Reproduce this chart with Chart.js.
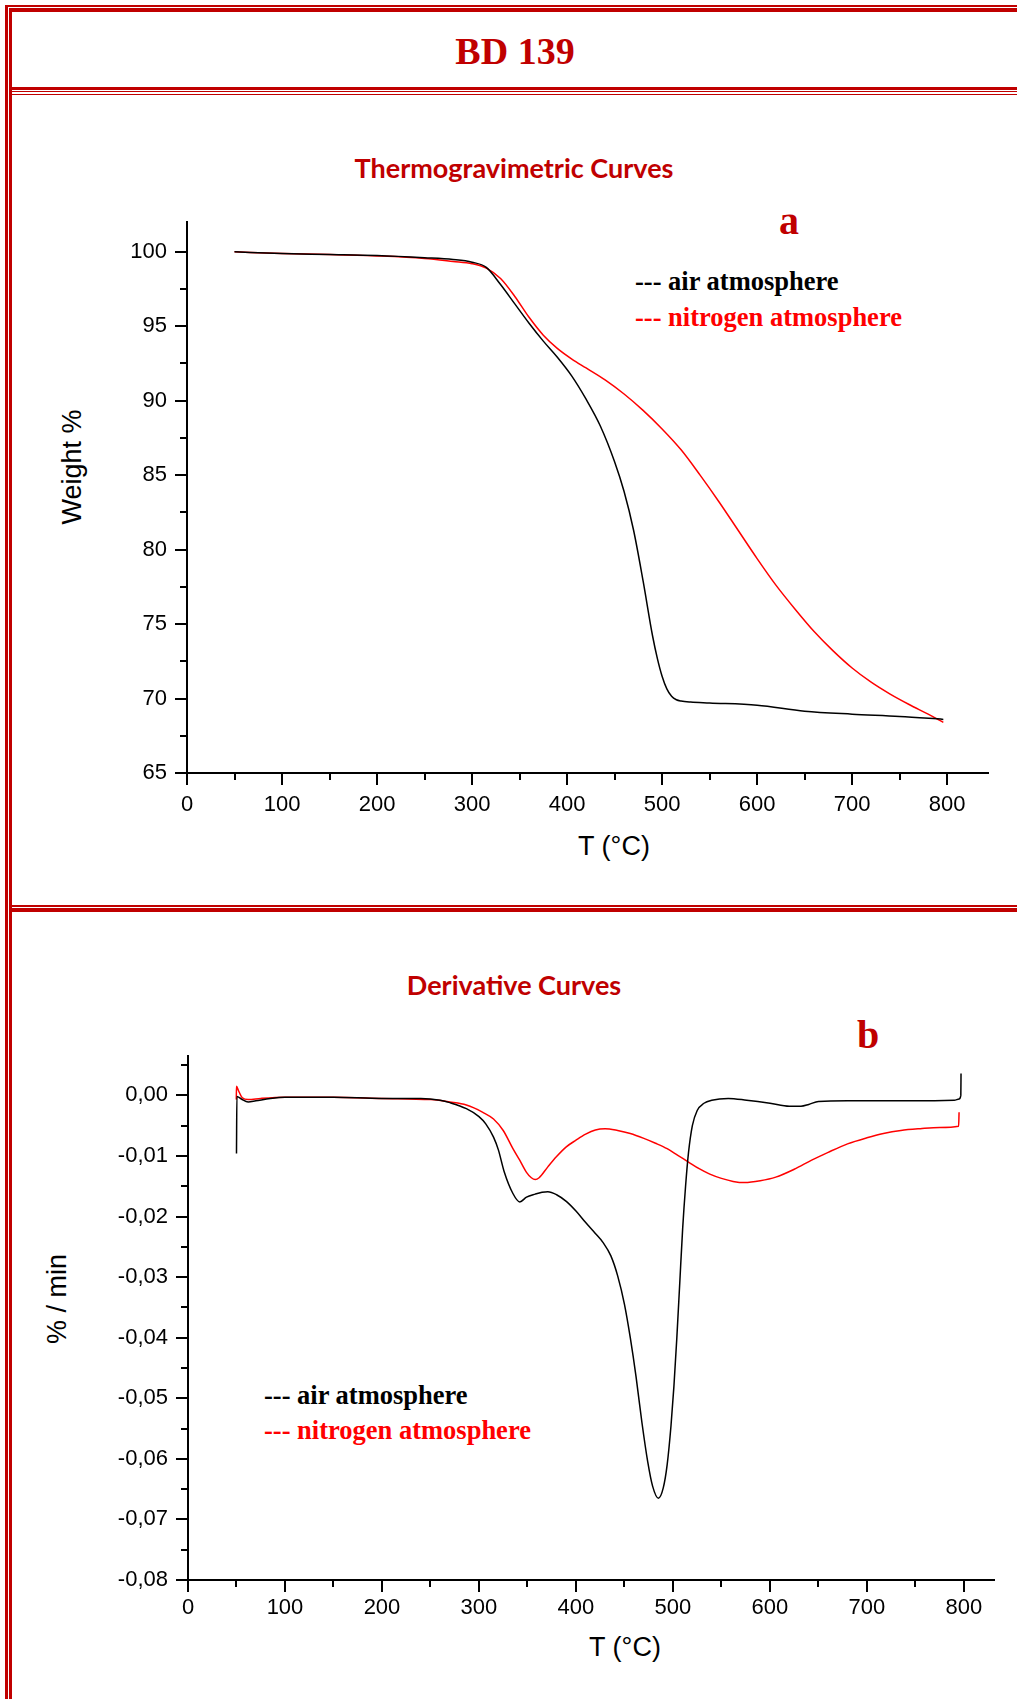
<!DOCTYPE html>
<html>
<head>
<meta charset="utf-8">
<script src="https://cdn.jsdelivr.net/npm/chart.js@4.4.1/dist/chart.umd.min.js"></script>
<style>
  body { margin: 0; width: 1017px; height: 1699px; position: relative; overflow: hidden; background: #fff; }
  .rule { position: absolute; background: #c00000; }
  .t { position: absolute; white-space: nowrap; line-height: 1; }
  .c { transform: translate(-50%, -50%); }
  .serif { font-family: "Liberation Serif", "Times New Roman", serif; font-weight: bold; }
  .sans { font-family: "Liberation Sans", Arial, sans-serif; }
  .calib { font-family: Lato, "Open Sans", sans-serif; font-weight: bold; color: #c00000; }
  canvas { position: absolute; }
</style>
</head>
<body>

<!-- double red table borders -->
<div class="rule" style="left:5px;top:5px;width:1012px;height:2px"></div>
<div class="rule" style="left:9px;top:8px;width:1008px;height:4px"></div>
<div class="rule" style="left:5px;top:5px;width:3px;height:1694px"></div>
<div class="rule" style="left:9px;top:8px;width:3px;height:1691px"></div>
<div class="rule" style="left:9px;top:87px;width:1008px;height:3px"></div>
<div class="rule" style="left:9px;top:91px;width:1008px;height:1px"></div>
<div class="rule" style="left:9px;top:94px;width:1008px;height:1px"></div>
<div class="rule" style="left:9px;top:905px;width:1008px;height:2px"></div>
<div class="rule" style="left:9px;top:908px;width:1008px;height:4px"></div>

<div class="t c serif" style="left:515px;top:51px;font-size:38px;color:#c00000">BD 139</div>

<div class="t c calib" style="left:514px;top:167px;font-size:27px">Thermogravimetric Curves</div>
<div class="t c serif" style="left:789px;top:221px;font-size:40px;color:#c00000">a</div>
<div class="t serif" style="left:635px;top:268px;font-size:26.5px;color:#000">--- air atmosphere</div>
<div class="t serif" style="left:635px;top:304px;font-size:26.5px;color:#ff0000">--- nitrogen atmosphere</div>
<div class="t c sans" style="left:72px;top:467px;font-size:27px;transform:translate(-50%,-50%) rotate(-90deg)">Weight %</div>
<div class="t c sans" style="left:614px;top:846px;font-size:27px">T (°C)</div>

<div class="t c calib" style="left:514px;top:984px;font-size:27px">Derivative Curves</div>
<div class="t c serif" style="left:868px;top:1035px;font-size:40px;color:#c00000">b</div>
<div class="t serif" style="left:264px;top:1382px;font-size:26.5px;color:#000">--- air atmosphere</div>
<div class="t serif" style="left:264px;top:1417px;font-size:26.5px;color:#ff0000">--- nitrogen atmosphere</div>
<div class="t c sans" style="left:57px;top:1299px;font-size:27px;transform:translate(-50%,-50%) rotate(-90deg)">% / min</div>
<div class="t c sans" style="left:625px;top:1647px;font-size:27px">T (°C)</div>

<canvas id="tgChart" width="997" height="690" style="left:20px;top:190px"></canvas>
<canvas id="dtgChart" width="997" height="739" style="left:20px;top:960px"></canvas>

<script>
// TG curves (weight %)
const tgTempAir = [50, 100, 150, 200, 250, 280, 300, 315, 330, 345, 360, 375, 390, 405, 420, 435, 450, 460, 470, 480, 490, 495, 500, 505, 510, 515, 520, 530, 550, 600, 650, 700, 750, 796];
const tgWeightAir = [100, 99.88, 99.82, 99.75, 99.6, 99.48, 99.3, 98.95, 97.8, 96.5, 95.2, 94.0, 92.9, 91.65, 90.1, 88.3, 85.9, 83.9, 81.3, 77.9, 74.2, 72.7, 71.5, 70.65, 70.15, 69.92, 69.83, 69.76, 69.7, 69.55, 69.15, 68.95, 68.8, 68.6];
const tgTempN2 = [50, 100, 150, 200, 250, 280, 300, 315, 330, 345, 360, 375, 390, 405, 420, 440, 460, 480, 500, 520, 540, 560, 580, 600, 620, 640, 660, 680, 700, 720, 740, 760, 780, 796];
const tgWeightN2 = [100, 99.88, 99.82, 99.72, 99.55, 99.35, 99.2, 98.9, 98.2, 97.0, 95.6, 94.4, 93.5, 92.8, 92.2, 91.4, 90.45, 89.35, 88.1, 86.7, 85.0, 83.2, 81.3, 79.4, 77.6, 76.0, 74.5, 73.2, 72.05, 71.1, 70.3, 69.6, 68.95, 68.4];

// DTG curves (% / min)
const dtgTempAir = [50, 50.4, 55, 62, 70, 85, 100, 150, 200, 240, 260, 270, 287, 300, 307, 315, 320, 326, 335, 342, 349, 358, 365, 371, 380, 390, 400, 410, 420, 428, 436, 443, 450, 456, 462, 468, 474, 479, 485, 490, 494, 498, 501, 504, 507, 510, 513, 516, 520, 525, 532, 540, 557, 576, 600, 620, 632, 640, 650, 680, 717, 750, 790, 795, 796.8, 797];
const dtgRateAir = [-0.0096, -0.0002, -0.0006, -0.0011, -0.0009, -0.0005, -0.0003, -0.0003, -0.0005, -0.0005, -0.0008, -0.0012, -0.0022, -0.0035, -0.0047, -0.0069, -0.009, -0.0126, -0.0162, -0.0176, -0.0168, -0.0163, -0.016, -0.0159, -0.0164, -0.0175, -0.0191, -0.021, -0.0228, -0.0243, -0.0265, -0.0298, -0.0345, -0.04, -0.0465, -0.054, -0.0605, -0.0645, -0.0665, -0.0648, -0.061, -0.0545, -0.048, -0.04, -0.031, -0.022, -0.015, -0.0095, -0.005, -0.0025, -0.0013, -0.0008, -0.0005, -0.0008, -0.0013, -0.0018, -0.0018, -0.0015, -0.001, -0.0009, -0.0009, -0.0009, -0.0008, -0.0006, 0.0, 0.0036];
const dtgTempN2 = [49.8, 50, 52, 56, 62, 75, 100, 150, 200, 250, 270, 287, 304, 315, 325, 335, 342, 349, 354, 358, 362, 371, 380, 390, 400, 410, 420, 430, 443, 456, 470, 482, 494, 505, 516, 527, 538, 550, 562, 574, 590, 606, 625, 643, 660, 680, 700, 717, 735, 755, 775, 794.5, 795];
const dtgRateN2 = [-0.0007, 0.0015, 0.0008, -0.0004, -0.0007, -0.0005, -0.0003, -0.0003, -0.0005, -0.0007, -0.0011, -0.0016, -0.0028, -0.0039, -0.0058, -0.0088, -0.0107, -0.0127, -0.0136, -0.0139, -0.0136, -0.0118, -0.0101, -0.0085, -0.0074, -0.0064, -0.0057, -0.0055, -0.0058, -0.0063, -0.0071, -0.0079, -0.0088, -0.0099, -0.011, -0.0121, -0.013, -0.0137, -0.0142, -0.0144, -0.0141, -0.0135, -0.0122, -0.0107, -0.0094, -0.008, -0.007, -0.0063, -0.0058, -0.0055, -0.0053, -0.0051, -0.0028];

// tick values
const tempTicks = [0, 100, 200, 300, 400, 500, 600, 700, 800];
const tempMinor = [50, 150, 250, 350, 450, 550, 650, 750];
const weightTicks = [65, 70, 75, 80, 85, 90, 95, 100];
const weightMinor = [67.5, 72.5, 77.5, 82.5, 87.5, 92.5, 97.5];
const rateTicks = [-0.08, -0.07, -0.06, -0.05, -0.04, -0.03, -0.02, -0.01, 0];
const rateMinor = [-0.075, -0.065, -0.055, -0.045, -0.035, -0.025, -0.015, -0.005, 0.005];

Chart.defaults.font.family = '"Liberation Sans", Arial, sans-serif';
Chart.defaults.color = '#000';

// short outside ticks between the labelled ones
const minorTicks = {
    id: 'minorTicks',
    afterDraw(chart, args, opts) {
        const { ctx, chartArea: a, scales: { x, y } } = chart;
        ctx.save();
        ctx.strokeStyle = '#000';
        ctx.lineWidth = 2;
        ctx.beginPath();
        opts.x.forEach(v => {
            const px = Math.round(x.getPixelForValue(v));
            ctx.moveTo(px, a.bottom);
            ctx.lineTo(px, a.bottom + opts.len);
        });
        opts.y.forEach(v => {
            const py = Math.round(y.getPixelForValue(v));
            ctx.moveTo(a.left, py);
            ctx.lineTo(a.left - opts.len, py);
        });
        ctx.stroke();
        ctx.restore();
    }
};

function points(xs, ys) {
    return xs.map((t, i) => ({ x: t, y: ys[i] }));
}

function axis(opts) {
    return Object.assign({
        type: 'linear',
        border: { display: true, color: '#000', width: 2 },
        grid: { drawOnChartArea: false, drawTicks: true, tickLength: 12, color: '#000', lineWidth: 2 },
    }, opts);
}

function makeChart(id, sets, cfg) {
    return new Chart(document.getElementById(id), {
        type: 'line',
        data: {
            datasets: sets.map(s => ({
                data: points(s.x, s.y),
                borderColor: s.color,
                borderWidth: 1.5,
                pointRadius: 0,
                fill: false,
                cubicInterpolationMode: 'monotone'
            }))
        },
        options: {
            responsive: false,
            animation: false,
            events: [],
            layout: { padding: cfg.padding },
            scales: {
                x: axis({
                    min: 0, max: cfg.xMax,
                    afterFit: s => { s.height = cfg.xHeight; },
                    afterBuildTicks: s => { s.ticks = tempTicks.map(v => ({ value: v })); },
                    ticks: { font: { size: 22, lineHeight: 1 }, padding: cfg.xPad, maxRotation: 0, callback: v => String(v) }
                }),
                y: axis({
                    min: cfg.yMin, max: cfg.yMax,
                    afterFit: s => { s.width = cfg.yWidth; },
                    afterBuildTicks: s => { s.ticks = cfg.yTicks.map(v => ({ value: v })); },
                    ticks: { font: { size: 22 }, padding: 8, callback: cfg.yLabel }
                })
            },
            plugins: {
                legend: { display: false },
                tooltip: { enabled: false },
                minorTicks: { x: tempMinor, y: cfg.yMinor, len: 7 }
            }
        },
        plugins: [minorTicks]
    });
}

makeChart('tgChart', [
    { x: tgTempAir, y: tgWeightAir, color: '#000000' },
    { x: tgTempN2, y: tgWeightN2, color: '#ff0000' }
], {
    padding: { top: 32, right: 29, left: 0, bottom: 0 },
    xMax: 843, xHeight: 107, xPad: 9,
    yMin: 65, yMax: 102, yWidth: 167,
    yTicks: weightTicks, yMinor: weightMinor,
    yLabel: v => String(v)
});

makeChart('dtgChart', [
    { x: dtgTempAir, y: dtgRateAir, color: '#000000' },
    { x: dtgTempN2, y: dtgRateN2, color: '#ff0000' }
], {
    padding: { top: 96, right: 23, left: 0, bottom: 0 },
    xMax: 831, xHeight: 119, xPad: 5,
    yMin: -0.08, yMax: 0.0065, yWidth: 168,
    yTicks: rateTicks, yMinor: rateMinor,
    yLabel: v => Math.abs(v) < 1e-9 ? '0,00' : v.toFixed(2).replace('.', ',')
});
</script>
</body>
</html>
